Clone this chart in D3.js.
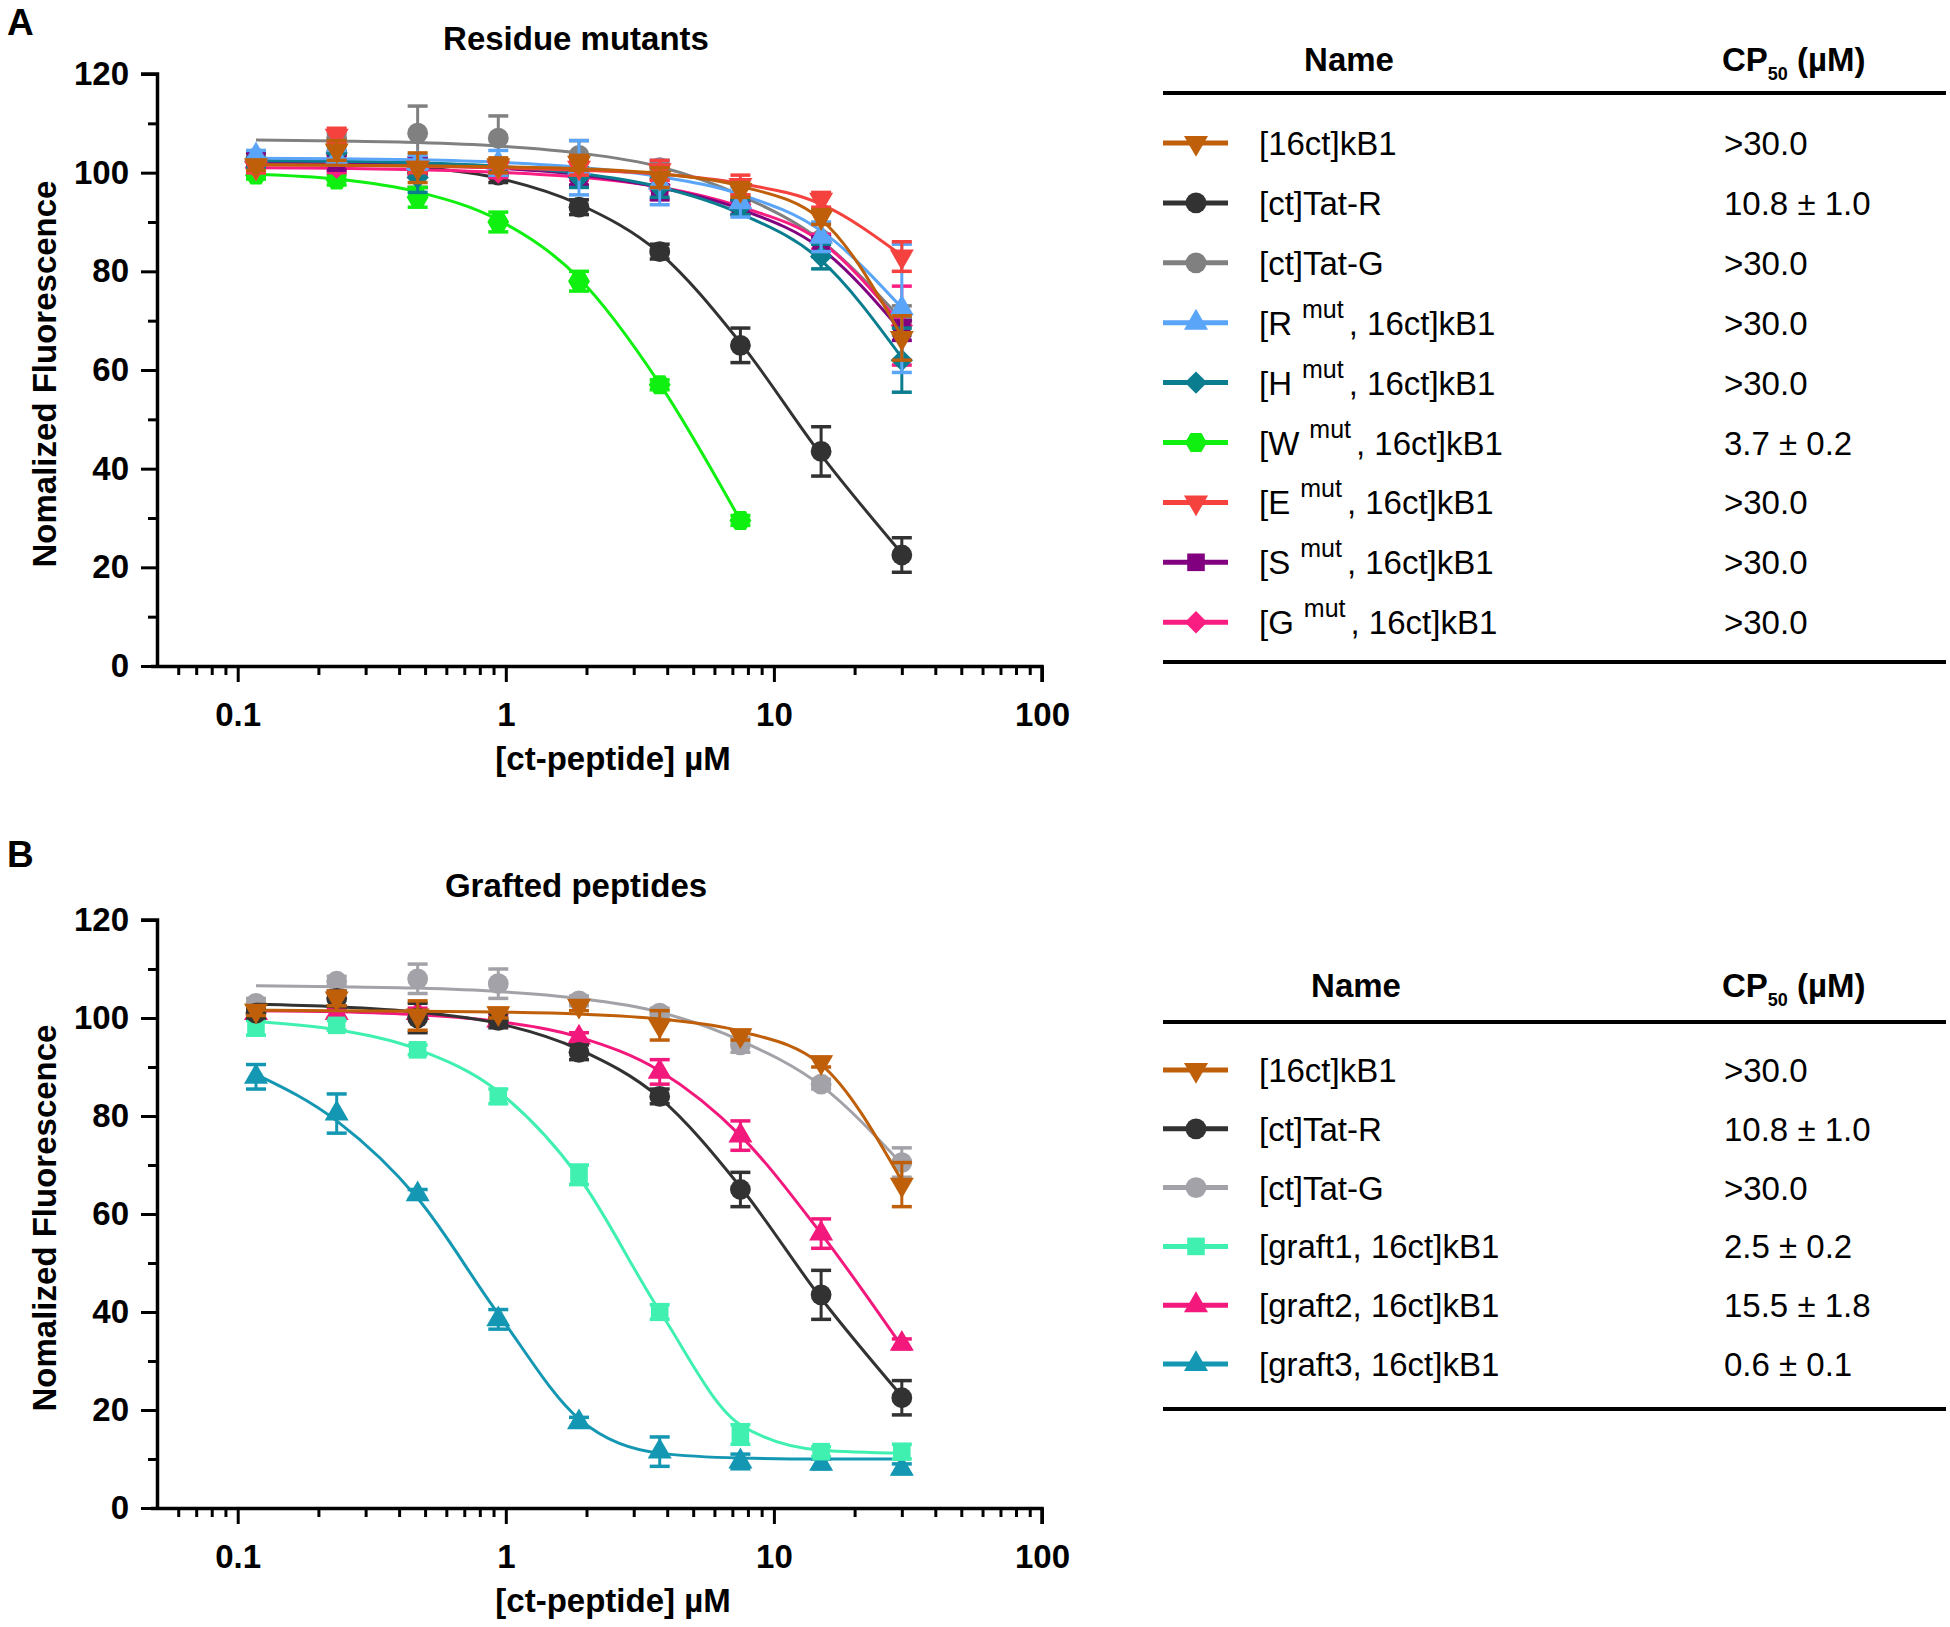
<!DOCTYPE html>
<html><head><meta charset="utf-8">
<script src="https://cdn.jsdelivr.net/npm/d3@7"></script>
<style>body{margin:0;background:#fff} svg{display:block} text{font-family:"Liberation Sans",Arial,sans-serif}</style>
</head><body><svg id="c" width="1950" height="1627"></svg>
<script>
// ---------- data ----------
const conc = [0.117, 0.234, 0.469, 0.9375, 1.875, 3.75, 7.5, 15, 30];
const concW = [0.117, 0.234, 0.469, 0.9375, 1.875, 3.75, 7.5];
const xMajor = [0.1, 1, 10, 100];
const xMinor = [0.06,0.07,0.08,0.09,0.2,0.3,0.4,0.5,0.6,0.7,0.8,0.9,2,3,4,5,6,7,8,9,20,30,40,50,60,70,80,90];
const yMajor = [0, 20, 40, 60, 80, 100, 120];
const yMinor = [10, 30, 50, 70, 90, 110];

// Panel A series
const kb1Y   = [101.5,104.5,101,101.5,102,99,96.5,91,66.5];
const kb1E   = [1,2,3,1.5,1.5,2,1.5,1.5,4.5];
const kb1Fit = [101.6,101.5,101.4,101.2,100.8,99.8,97.3,90.5,66.8];
const tatRY   = [101,104,100,99.5,93,84,65,43.5,22.5];
const tatRE   = [1,1.5,3,1.5,1.5,1.5,3.5,5,3.5];
const tatRFit = [102.8,102.3,101.2,98.9,93.6,83.7,65.5,42.8,22.8];
const tatGY   = [103,107,108,107,103.5,101,94,86.5,70];
const tatGE   = [1,1,5.5,4.5,3,1,1.5,1,3];
const tatGFit = [106.6,106.4,106.1,105.4,104,101.2,95.4,86.2,70.2];
const rMutY   = [103.5,103,102,102,101,98,94,87,72.5];
const rMutE   = [1,1.5,1.5,2.5,5.5,4.5,3,3,13];
const rMutFit = [102.9,102.8,102.6,102.1,101.1,99.2,95.6,88.2,72.6];
const hMutY   = [102,104,99,101,99,97,93,83,62];
const hMutE   = [1,1.5,3,1.5,2,2,1.5,2.5,6.5];
const hMutFit = [102.4,102.3,102,101.3,99.9,97.1,91.7,82.2,62.5];
const wMutY   = [99.5,98.5,95,90,78,57,29.5];
const wMutE   = [0.8,1,2,2,2,1,1];
const wMutFit = [99.7,98.7,96.1,90.4,78.6,57.2,29.5];
const eMutY   = [101,107.5,101,101,101,100.5,97.5,94.5,83];
const eMutE   = [1,1.5,1,1,1.5,2,2,1.5,3];
const eMutFit = [101.6,101.5,101.3,101,100.5,99.7,97.8,93.6,83.2];
const sMutY   = [102.5,102,101.5,101,99,96,93,85,68];
const sMutE   = [1.5,1.5,1.5,1,1.5,1.5,1.5,2,2];
const sMutFit = [101.9,101.8,101.5,100.9,99.6,97,92.6,84.6,67.8];
const gMutY   = [101,101,100.5,100,99.5,97.5,93.5,86,69];
const gMutE   = [1,1,1,1,1,1,1,1.5,8];
const gMutFit = [101,100.9,100.6,100.1,99.1,97.1,93.1,86,69];

// Panel B series
const kb1BY   = [101.5,104,100.5,101,102.5,98.5,96.5,91,66];
const kb1BE   = [1,1.5,3,1,1,3,1,1,4.5];
const tatGBY  = [103,107.5,108,107,103.5,101,94.5,86.5,70.5];
const tatGBE  = [1,1,3,3,1,1,1.5,1,3];
const g1Y   = [98,98.5,93.5,84,68,40,15,11.5,11.5];
const g1E   = [1.5,1,1,1.5,2,1.5,2,1,1.5];
const g1Fit = [99.3,97.6,93.6,85,67.5,40.2,17,11.8,11.2];
const g2Y   = [101,101,101,99.5,96,89,76,56,33.5];
const g2E   = [1,1,1,1,1,2.5,3,3,1];
const g2Fit = [101.5,101.3,100.7,99.3,96.1,89.2,76,56,33];
const g3Y   = [88,80.5,64,38.5,17.5,11.5,9.5,9,8];
const g3E   = [2.5,4,1,2,1,3,1.5,1,1];
const g3Fit = [88.5,79,63.2,39.6,18.2,11.2,10.2,10,10];

// legend / table text
const namesA = [["[16ct]kB1"],["[ct]Tat-R"],["[ct]Tat-G"],["[R","mut",", 16ct]kB1"],["[H","mut",", 16ct]kB1"],["[W","mut",", 16ct]kB1"],["[E","mut",", 16ct]kB1"],["[S","mut",", 16ct]kB1"],["[G","mut",", 16ct]kB1"]];
const cpA = [">30.0","10.8 ± 1.0",">30.0",">30.0",">30.0","3.7 ± 0.2",">30.0",">30.0",">30.0"];
const namesB = [["[16ct]kB1"],["[ct]Tat-R"],["[ct]Tat-G"],["[graft1, 16ct]kB1"],["[graft2, 16ct]kB1"],["[graft3, 16ct]kB1"]];
const cpB = [">30.0","10.8 ± 1.0",">30.0","2.5 ± 0.2","15.5 ± 1.8","0.6 ± 0.1"];

const colorsA = ["#BF5F0A","#323232","#808080","#5AA5F7","#0A7D8F","#10F010","#F5423F","#800080","#FA1E82"];
const shapesA = ["down","circle","circle","up","diamond","hex","down","square","diamond"];
const colorsB = ["#BF5F0A","#323232","#A2A2A8","#40F0B0","#F2187C","#1497B2"];
const shapesB = ["down","circle","circle","square","up","up"];
const drawOrderA = [1,2,5,8,7,4,3,6,0];
const drawOrderB = [5,4,3,2,1,0];

const seriesA = [
  {x:conc, y:kb1Y, e:kb1E, f:kb1Fit},
  {x:conc, y:tatRY, e:tatRE, f:tatRFit},
  {x:conc, y:tatGY, e:tatGE, f:tatGFit},
  {x:conc, y:rMutY, e:rMutE, f:rMutFit},
  {x:conc, y:hMutY, e:hMutE, f:hMutFit},
  {x:concW, y:wMutY, e:wMutE, f:wMutFit},
  {x:conc, y:eMutY, e:eMutE, f:eMutFit},
  {x:conc, y:sMutY, e:sMutE, f:sMutFit},
  {x:conc, y:gMutY, e:gMutE, f:gMutFit}
];
const seriesB = [
  {x:conc, y:kb1BY, e:kb1BE, f:kb1Fit},
  {x:conc, y:tatRY, e:tatRE, f:tatRFit},
  {x:conc, y:tatGBY, e:tatGBE, f:tatGFit},
  {x:conc, y:g1Y, e:g1E, f:g1Fit},
  {x:conc, y:g2Y, e:g2E, f:g2Fit},
  {x:conc, y:g3Y, e:g3E, f:g3Fit}
];

// ---------- drawing ----------
const svg = d3.select("#c");
const FONT = '"Liberation Sans",Arial,sans-serif';

const hexagon = {draw(ctx, size){
  const r = Math.sqrt(size/(1.5*Math.sqrt(3)));
  for(let i=0;i<6;i++){const a=i*Math.PI/3; const px=r*Math.cos(a), py=r*Math.sin(a); if(i) ctx.lineTo(px,py); else ctx.moveTo(px,py);}
  ctx.closePath();
}};
const shapeDef = {
  down:[d3.symbolTriangle,180,250], up:[d3.symbolTriangle,0,250], circle:[d3.symbolCircle,0,340],
  square:[d3.symbolSquare,0,310], diamond:[d3.symbolSquare,45,250], hex:[hexagon,0,310]
};
function marker(g, shape, color, cx, cy){
  const [t, rot, size] = shapeDef[shape];
  g.append("path").attr("d", d3.symbol().type(t).size(size)())
    .attr("transform", `translate(${cx},${cy}) rotate(${rot})`).attr("fill", color);
}

function drawPanel(cfg){
  const g = svg.append("g");
  const x = d3.scaleLog().domain([0.05, 100]).range([157, 1042]);
  const y = d3.scaleLinear().domain([0, 120]).range([cfg.y0, cfg.y120]);

  cfg.order.forEach(i => {
    const s = cfg.series[i], col = cfg.colors[i];
    const sg = g.append("g");
    const pts = s.x.map((c, j) => [c, s.f[j]]);
    sg.append("path").attr("d", d3.line().x(d => x(d[0])).y(d => y(d[1])).curve(d3.curveMonotoneX)(pts))
      .attr("fill","none").attr("stroke", col).attr("stroke-width", 3);
    s.x.forEach((c, j) => {
      const cx = x(c), top = y(s.y[j] + s.e[j]), bot = y(s.y[j] - s.e[j]);
      sg.append("line").attr("x1",cx).attr("x2",cx).attr("y1",top).attr("y2",bot).attr("stroke",col).attr("stroke-width",3);
      [top, bot].forEach(yy => sg.append("line").attr("x1",cx-10).attr("x2",cx+10).attr("y1",yy).attr("y2",yy).attr("stroke",col).attr("stroke-width",3.5));
    });
    s.x.forEach((c, j) => marker(sg, cfg.shapes[i], col, x(c), y(s.y[j])));
  });

  // axes
  const ax = g.append("g").attr("transform", `translate(0,${cfg.y0})`);
  ax.call(d3.axisBottom(x).tickValues(xMajor).tickSize(16).tickPadding(21).tickFormat(d => String(d)));
  const axm = g.append("g").attr("transform", `translate(0,${cfg.y0})`);
  axm.call(d3.axisBottom(x).tickValues(xMinor).tickSize(9).tickFormat(""));
  axm.select(".domain").remove();
  const ay = g.append("g").attr("transform", `translate(157,0)`);
  ay.call(d3.axisLeft(y).tickValues(yMajor).tickSize(16).tickPadding(12));
  const aym = g.append("g").attr("transform", `translate(157,0)`);
  aym.call(d3.axisLeft(y).tickValues(yMinor).tickSize(9).tickFormat(""));
  aym.select(".domain").remove();
  [ax, axm, ay, aym].forEach(a => {
    a.selectAll("line").attr("stroke","#000").attr("stroke-width",3);
    a.selectAll(".domain").attr("stroke","#000").attr("stroke-width",3.5);
    a.selectAll("text").attr("font-family", FONT).attr("font-size", 33).attr("font-weight","bold").attr("fill","#000");
  });
  ax.select(".domain").attr("d", `M151,0.5H1042V16`);
  ay.select(".domain").attr("d", `M-16,${cfg.y120}H0.5V${cfg.y0+2}`);

  // texts
  svg.append("text").attr("x", 7).attr("y", cfg.letterY).attr("font-size", 37).attr("font-weight","bold").text(cfg.letter);
  svg.append("text").attr("x", 576).attr("y", cfg.titleY).attr("text-anchor","middle").attr("font-size", 33).attr("font-weight","bold").text(cfg.title);
  svg.append("text").attr("x", 613).attr("y", cfg.y0 + 104).attr("text-anchor","middle").attr("font-size", 33).attr("font-weight","bold").text("[ct-peptide] µM");
  svg.append("text").attr("transform", `translate(56,${(cfg.y0+cfg.y120)/2 + 4}) rotate(-90)`).attr("text-anchor","middle")
    .attr("font-size", 33).attr("font-weight","bold").text("Nomalized Fluorescence");

  // table
  const t = svg.append("g");
  t.append("text").attr("x", cfg.nameX).attr("y", cfg.headY).attr("text-anchor","middle").attr("font-size",33).attr("font-weight","bold").text("Name");
  const cp = t.append("text").attr("x", cfg.valX).attr("y", cfg.headY).attr("font-size",33).attr("font-weight","bold");
  cp.append("tspan").text("CP");
  cp.append("tspan").attr("font-size",18).attr("dy",9).text("50");
  cp.append("tspan").attr("dy",-9).text(" (µM)");
  [cfg.lineTop, cfg.lineBot].forEach(yy => t.append("line").attr("x1",1163).attr("x2",1946).attr("y1",yy).attr("y2",yy).attr("stroke","#000").attr("stroke-width",4));
  cfg.names.forEach((nm, i) => {
    const cy = cfg.row0 + i*cfg.rowStep, col = cfg.colors[i];
    t.append("line").attr("x1",1163).attr("x2",1228).attr("y1",cy).attr("y2",cy).attr("stroke",col).attr("stroke-width",5);
    marker(t, cfg.shapes[i], col, 1196, cy);
    const tx = t.append("text").attr("x", 1259).attr("y", cy + 12).attr("font-size", 33);
    tx.append("tspan").text(nm[0]);
    if (nm.length > 1) {
      tx.append("tspan").attr("font-size", 25).attr("dx", 10).attr("dy", -17).text(nm[1]);
      tx.append("tspan").attr("dx", 5).attr("dy", 17).text(nm[2]);
    }
    t.append("text").attr("x", cfg.valX + 2).attr("y", cy + 12).attr("font-size", 33).text(cfg.cp[i]);
  });
}

drawPanel({letter:"A", letterY:35, title:"Residue mutants", titleY:50, y0:666, y120:74,
  series:seriesA, colors:colorsA, shapes:shapesA, names:namesA, cp:cpA, order:drawOrderA,
  nameX:1349, valX:1722, headY:71, lineTop:93, lineBot:662, row0:143, rowStep:59.9});
drawPanel({letter:"B", letterY:867, title:"Grafted peptides", titleY:897, y0:1508, y120:920,
  series:seriesB, colors:colorsB, shapes:shapesB, names:namesB, cp:cpB, order:drawOrderB,
  nameX:1356, valX:1722, headY:997, lineTop:1022, lineBot:1409, row0:1070, rowStep:58.8});
</script></body></html>
